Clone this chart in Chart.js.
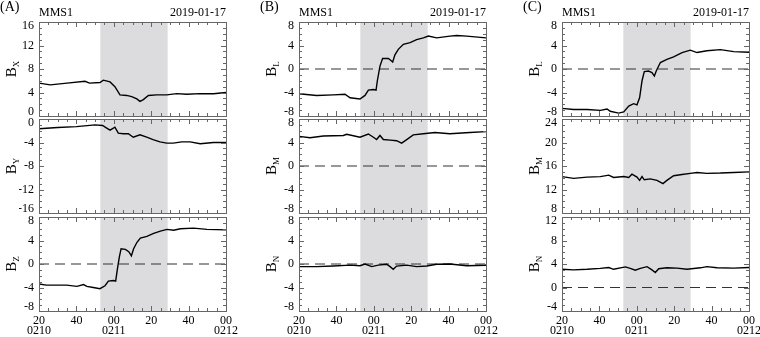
<!DOCTYPE html>
<html>
<head>
<meta charset="UTF-8">
<title>MMS1 2019-01-17</title>
<script src="https://cdn.jsdelivr.net/npm/chart.js"></script>
<style>
  body { margin: 0; background: #fff; }
  #fig { position: relative; width: 760px; height: 337px; overflow: hidden; font-family: "Liberation Serif", serif; color: #000; }
  #fig canvas { position: absolute; }
  .txt { position: absolute; white-space: nowrap; line-height: 1; }
  .ttl { position: absolute; width: 40px; height: 20px; line-height: 20px; text-align: center; font-size: 15px; transform: rotate(-90deg); white-space: nowrap; }
  .ttl sub { font-size: 9px; vertical-align: -3px; }
</style>
</head>
<body>
<div id="fig"></div>
<script>
  // seconds after 02:10:20
  const xTickSeconds = [0, 20, 40, 60, 80, 100];
  const xTickLabels = [['20', '0210'], ['40', ''], ['00', '0211'], ['20', ''], ['40', ''], ['00', '0212']];
  const shadeStart = 32.8, shadeEnd = 68.8;

  // (A) GSE components
  const bxTime = [0, 6, 15, 24.6, 27, 32.6, 34.4, 38, 40.6, 43.3, 46.9, 49.6, 52.3, 54, 55.8, 58.5, 62.9, 68.3, 73.7, 79, 86.2, 93.3, 100];
  const bxVals = [5.6, 5.3, 5.6, 5.9, 5.6, 5.7, 6.1, 5.8, 5.0, 3.6, 3.5, 3.3, 2.9, 2.5, 2.8, 3.5, 3.6, 3.6, 3.8, 3.7, 3.8, 3.8, 4.0];
  const byTime = [0, 10, 20, 30, 34, 36, 38, 40.6, 42.4, 45, 47.8, 50.4, 54, 57.6, 61, 64.7, 68.3, 71.8, 76.3, 80.8, 86.2, 93.3, 100];
  const byVals = [-1.65, -1.45, -1.3, -1.0, -1.1, -1.5, -1.9, -1.4, -2.4, -2.5, -2.5, -3.1, -2.7, -3.1, -3.5, -3.9, -4.1, -4.1, -3.9, -3.9, -4.2, -4.0, -4.0];
  const bzTime = [0, 4, 14.8, 20.3, 23.8, 25.6, 29, 32.6, 35.3, 37.1, 39.8, 41, 42, 43, 43.9, 46.2, 48, 49.4, 50.6, 52.4, 54.2, 57.7, 61.3, 64.9, 68.4, 72, 75.6, 82.7, 89.8, 100];
  const bzVals = [-3.4, -3.6, -3.6, -3.8, -3.5, -3.8, -4.0, -4.2, -3.7, -2.9, -2.8, -2.9, -0.7, 1.25, 2.6, 2.5, 2.1, 1.4, 2.6, 3.7, 4.4, 4.7, 5.2, 5.6, 5.9, 5.75, 6.0, 6.1, 5.9, 5.8];

  // (B) LMN
  const blBTime = [0, 9.4, 18.4, 24.6, 27.3, 32.6, 35.3, 37.1, 39.8, 41.2, 41.9, 43.3, 44.7, 47.8, 49, 50.1, 51.3, 53.1, 55.8, 59.4, 62.9, 66.5, 69.2, 73.6, 80.7, 84.3, 89.7, 100];
  const blBVals = [-4.2, -4.5, -4.4, -4.3, -4.9, -5.1, -4.5, -3.6, -3.5, -3.6, -2.0, 0.5, 1.8, 1.8, 1.5, 1.2, 2.4, 3.35, 4.2, 4.5, 5.0, 5.3, 5.6, 5.3, 5.6, 5.7, 5.6, 5.3];
  const bmBTime = [0, 5.9, 13, 23.7, 25.5, 32.6, 37.1, 39.8, 41.5, 43.3, 45.1, 48.7, 52.2, 54.9, 57.6, 61.1, 66.5, 72.7, 80.7, 91.4, 100];
  const bmBVals = [5.05, 4.8, 5.1, 5.2, 5.4, 4.9, 5.45, 4.9, 4.5, 5.2, 4.5, 4.4, 4.3, 3.9, 4.5, 5.3, 5.5, 5.7, 5.5, 5.7, 5.85];
  const bnBTime = [0, 9.4, 18.4, 27.3, 32.6, 35.3, 38.9, 42.4, 46.9, 48.7, 50.4, 52.2, 57.6, 62.9, 68.3, 73.6, 80.7, 89.7, 100];
  const bnBVals = [-0.45, -0.45, -0.35, -0.2, -0.3, 0, -0.45, -0.2, -0.05, -0.45, -0.9, -0.35, -0.2, -0.45, -0.35, -0.05, 0, -0.3, -0.2];

  // (C) LMN
  const blCTime = [0, 6.2, 13.4, 20.5, 24.1, 25.8, 30.3, 33, 35.7, 38.3, 40.1, 41.5, 42.8, 44, 46.3, 48.1, 49.4, 50.4, 52.6, 56.1, 59.7, 64.2, 68.6, 72.2, 77.5, 84.7, 91.8, 100];
  const blCVals = [-6.7, -6.9, -6.9, -7.05, -6.8, -7.2, -7.5, -7.3, -6.3, -5.9, -6.1, -4.9, -2.0, -0.45, -0.35, -0.6, -1.2, -0.35, 1.1, 1.65, 2.05, 2.8, 3.2, 2.8, 3.1, 3.3, 2.95, 2.85];
  const bmCTime = [0, 6.2, 13.4, 20.5, 25, 27.6, 33, 35.7, 37.4, 40.1, 41.5, 42.8, 44, 47.2, 50.8, 54, 56.1, 59.7, 64.2, 68.6, 72.2, 77.5, 84.7, 91.8, 100];
  const bmCVals = [14.2, 13.9, 14.1, 14.2, 14.45, 14.05, 14.2, 14.05, 14.6, 14.1, 13.55, 14.2, 13.65, 13.8, 13.55, 13.0, 13.55, 14.35, 14.55, 14.75, 14.9, 14.75, 14.8, 14.9, 15.0];
  const bnCTime = [0, 6.2, 13.4, 20.5, 25, 27.6, 33.9, 36.5, 39.2, 41.9, 45.5, 48.1, 49.9, 51.7, 56.1, 61.5, 66.8, 74, 77.5, 82.9, 91.8, 100];
  const bnCVals = [3.1, 3.0, 3.1, 3.25, 3.4, 3.1, 3.5, 3.25, 2.95, 3.25, 3.55, 3.0, 2.55, 3.2, 3.35, 3.3, 3.1, 3.35, 3.55, 3.35, 3.3, 3.4];

  // y tick labels per panel
  const bxTicks = [0, 4, 8, 12, 16];
  const byTicks = [-16, -12, -8, -4, 0];
  const lmnTicks = [-8, -4, 0, 4, 8];
  const bmCTicks = [8, 12, 16, 20, 24];
  const bnCTicks = [-4, 0, 4, 8, 12];

  const colLeft = [39, 299, 562];
  const rowTop = [22, 119, 217];
  const plotW = 187, plotH = 94;

  const panels = [
    { col: 0, row: 0, t: bxTime, v: bxVals, ticks: bxTicks, name: 'B', sub: 'X', zero: false },
    { col: 0, row: 1, t: byTime, v: byVals, ticks: byTicks, name: 'B', sub: 'Y', zero: false },
    { col: 0, row: 2, t: bzTime, v: bzVals, ticks: lmnTicks, name: 'B', sub: 'Z', zero: true },
    { col: 1, row: 0, t: blBTime, v: blBVals, ticks: lmnTicks, name: 'B', sub: 'L', zero: true },
    { col: 1, row: 1, t: bmBTime, v: bmBVals, ticks: lmnTicks, name: 'B', sub: 'M', zero: true },
    { col: 1, row: 2, t: bnBTime, v: bnBVals, ticks: lmnTicks, name: 'B', sub: 'N', zero: true },
    { col: 2, row: 0, t: blCTime, v: blCVals, ticks: lmnTicks, name: 'B', sub: 'L', zero: true },
    { col: 2, row: 1, t: bmCTime, v: bmCVals, ticks: bmCTicks, name: 'B', sub: 'M', zero: false },
    { col: 2, row: 2, t: bnCTime, v: bnCVals, ticks: bnCTicks, name: 'B', sub: 'N', zero: true }
  ];

  const fig = document.getElementById('fig');
  const font = '"Liberation Serif", serif';

  // shading, box, inward ticks and y labels
  const frame = {
    id: 'frame',
    beforeDatasetsDraw(chart) {
      const { ctx, chartArea: a, scales: { x } } = chart;
      const x0 = x.getPixelForValue(shadeStart), x1 = x.getPixelForValue(shadeEnd);
      ctx.save();
      ctx.fillStyle = '#dcdcde';
      ctx.fillRect(x0, a.top, x1 - x0, a.bottom - a.top);
      ctx.restore();
    },
    afterDraw(chart, args, o) {
      const { ctx, chartArea: a, scales: { x, y } } = chart;
      ctx.save();
      ctx.strokeStyle = '#666';
      ctx.lineWidth = 1;
      ctx.beginPath();
      for (let s = 0; s <= 100; s += 5) {
        const px = Math.round(x.getPixelForValue(s)) + 0.5;
        const len = s % 20 === 0 ? 5 : 3;
        ctx.moveTo(px, a.bottom); ctx.lineTo(px, a.bottom - len);
        ctx.moveTo(px, a.top); ctx.lineTo(px, a.top + len);
      }
      const lo = o.ticks[0], hi = o.ticks[o.ticks.length - 1];
      for (let v = lo; v <= hi; v++) {
        const py = Math.round(y.getPixelForValue(v)) + 0.5;
        const len = o.ticks.includes(v) ? 5 : 3;
        ctx.moveTo(a.left, py); ctx.lineTo(a.left + len, py);
        ctx.moveTo(a.right, py); ctx.lineTo(a.right - len, py);
      }
      ctx.stroke();
      ctx.strokeRect(Math.round(a.left) + 0.5, Math.round(a.top) + 0.5, Math.round(a.right - a.left), Math.round(a.bottom - a.top));
      ctx.fillStyle = '#000';
      ctx.font = '12px ' + font;
      ctx.textAlign = 'right';
      ctx.textBaseline = 'middle';
      o.ticks.forEach(v => {
        let py = y.getPixelForValue(v);
        py = Math.min(Math.max(py, a.top + 4), a.bottom - 4.5);
        ctx.fillText(String(v), a.left - 5, py);
      });
      ctx.restore();
    }
  };

  panels.forEach(p => {
    const bottom = p.row === 2;
    const padL = 20, padR = 20, padT = 4, padB = bottom ? 2 : 4;
    const xAxisH = bottom ? 30 : 0;
    const cv = document.createElement('canvas');
    cv.width = plotW + padL + padR;
    cv.height = plotH + padT + padB + xAxisH;
    cv.style.left = (colLeft[p.col] - padL) + 'px';
    cv.style.top = (rowTop[p.row] - padT) + 'px';
    fig.appendChild(cv);

    const datasets = [{
      data: p.t.map((t, i) => ({ x: t, y: p.v[i] })),
      borderColor: '#000',
      borderWidth: 1.4,
      pointRadius: 0,
      tension: 0
    }];
    if (p.zero) {
      datasets.push({
        data: [{ x: 0, y: 0 }, { x: 100, y: 0 }],
        borderColor: '#333',
        borderWidth: 1.2,
        borderDash: [10, 6],
        pointRadius: 0
      });
    }

    new Chart(cv, {
      type: 'line',
      data: { datasets },
      plugins: [frame],
      options: {
        responsive: false,
        animation: false,
        events: [],
        layout: { padding: { left: padL, right: padR, top: padT, bottom: padB } },
        plugins: {
          legend: { display: false },
          tooltip: { enabled: false },
          frame: { ticks: p.ticks }
        },
        scales: {
          x: {
            type: 'linear',
            min: 0,
            max: 100,
            display: bottom,
            grid: { display: false, drawTicks: false },
            border: { display: false },
            afterBuildTicks: s => { s.ticks = xTickSeconds.map(v => ({ value: v })); },
            afterFit: s => { s.height = xAxisH; },
            ticks: {
              autoSkip: false,
              maxRotation: 0,
              padding: 5,
              color: '#000',
              font: { family: font, size: 12, lineHeight: 0.85 },
              callback: v => xTickLabels[xTickSeconds.indexOf(v)]
            }
          },
          y: {
            type: 'linear',
            min: p.ticks[0],
            max: p.ticks[p.ticks.length - 1],
            display: false
          }
        }
      }
    });

    const ttl = document.createElement('div');
    ttl.className = 'ttl';
    ttl.innerHTML = p.name + '<sub>' + p.sub + '</sub>';
    ttl.style.left = (colLeft[p.col] - 28 - 20) + 'px';
    ttl.style.top = (rowTop[p.row] + plotH / 2 - 10) + 'px';
    fig.appendChild(ttl);
  });

  // panel letters, spacecraft and date
  const tags = ['(A)', '(B)', '(C)'];
  const tagLeft = [0, 260, 523];
  tags.forEach((s, i) => {
    const d = document.createElement('div');
    d.className = 'txt';
    d.style.cssText = 'left:' + tagLeft[i] + 'px;top:0px;font-size:14px;';
    d.textContent = s;
    fig.appendChild(d);

    const m = document.createElement('div');
    m.className = 'txt';
    m.style.cssText = 'left:' + colLeft[i] + 'px;top:6px;font-size:12px;';
    m.textContent = 'MMS1';
    fig.appendChild(m);

    const dt = document.createElement('div');
    dt.className = 'txt';
    dt.style.cssText = 'right:' + (760 - colLeft[i] - plotW) + 'px;top:6px;font-size:12px;';
    dt.textContent = '2019-01-17';
    fig.appendChild(dt);
  });
</script>
</body>
</html>
